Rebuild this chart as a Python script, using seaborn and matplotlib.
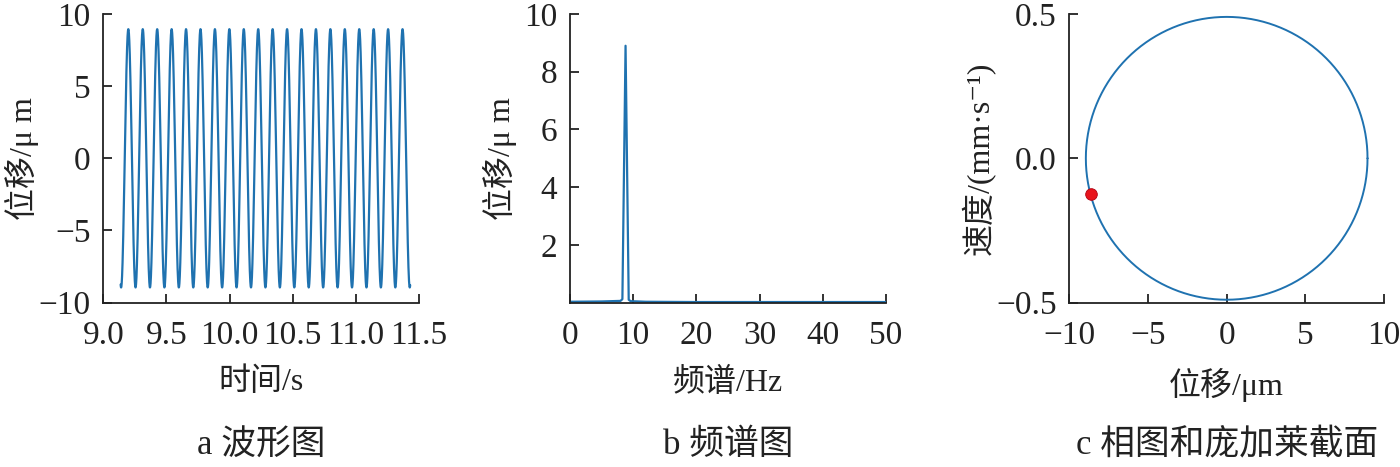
import numpy as np
import pandas as pd
import matplotlib
matplotlib.use("Agg")
import matplotlib.pyplot as plt
import seaborn as sns
from matplotlib.ticker import FormatStrFormatter, FuncFormatter

# ---------------- data ----------------
# (a) waveform: a pure sinusoid, parameters
wave_amplitude = 8.95      # µm
wave_frequency = 8.75      # Hz (20 peaks between 9.2 s and 11.4 s)
wave_first_peak = 9.198    # s
wave_t_start = 9.137       # s
wave_t_end = 11.43         # s

# (b) spectrum points (Hz, µm)
spec_freq = [0.0, 5.0, 8.0, 8.3, 8.8, 9.3, 9.6, 12.0, 20.0, 30.0, 40.0, 50.0]
spec_amp = [0.03, 0.04, 0.06, 0.12, 8.9, 0.10, 0.05, 0.03, 0.02, 0.02, 0.02, 0.02]

# (c) phase portrait: displacement amplitude (µm), velocity amplitude (mm/s)
phase_x_amp = 8.95
phase_v_amp = 0.49
poincare_x = [-8.64]
poincare_v = [-0.124]

# ticks / labels
a_xticks = [9.0, 9.5, 10.0, 10.5, 11.0, 11.5]
a_yticks = [-10, -5, 0, 5, 10]
b_xticks = [0, 10, 20, 30, 40, 50]
b_yticks = [2, 4, 6, 8, 10]
c_xticks = [-10, -5, 0, 5, 10]
c_yticks = [-0.5, 0.0, 0.5]
captions = ["a 波形图", "b 频谱图", "c 相图和庞加莱截面"]

# ---------------- build curves ----------------
t = np.linspace(wave_t_start, wave_t_end, 3000)
disp = wave_amplitude * np.cos(2 * np.pi * wave_frequency * (t - wave_first_peak))
df_wave = pd.DataFrame({"t": t, "x": disp})
df_spec = pd.DataFrame({"f": spec_freq, "a": spec_amp})
theta = np.linspace(0, 2 * np.pi, 721)
df_phase = pd.DataFrame({"x": phase_x_amp * np.cos(theta),
                         "v": phase_v_amp * np.sin(theta)})
df_pc = pd.DataFrame({"x": poincare_x, "v": poincare_v})

# ---------------- style ----------------
sns.set_theme(style="ticks")
plt.rcParams["font.family"] = ["Liberation Serif", "Noto Sans CJK SC", "DejaVu Sans"]
plt.rcParams["axes.unicode_minus"] = True
plt.rcParams.update({
    "xtick.direction": "in", "ytick.direction": "in",
    "xtick.major.size": 6.5, "ytick.major.size": 6.5,
    "xtick.major.width": 1.3, "ytick.major.width": 1.3,
    "axes.linewidth": 1.3, "axes.edgecolor": "#222222",
    "xtick.color": "#222222", "ytick.color": "#222222",
    "font.size": 23, "xtick.labelsize": 24, "ytick.labelsize": 24,
    "axes.labelsize": 23, "text.color": "#222222", "axes.labelcolor": "#222222",
})

fmt1 = FuncFormatter(lambda v, p: f"{v:.1f}".replace("-", "\u2212"))

BLUE = "#1f72b0"
fig = plt.figure(figsize=(14, 4.67), dpi=100)
bottom, height = 0.352, 0.618
axa = fig.add_axes([0.0738, bottom, 0.2255, height])
axb = fig.add_axes([0.4071, bottom, 0.2257, height])
axc = fig.add_axes([0.7638, bottom, 0.2248, height])

# (a)
sns.lineplot(data=df_wave, x="t", y="x", ax=axa, color=BLUE, linewidth=1.6,
             estimator=None, sort=False)
axa.set_xlim(9.0, 11.5)
axa.set_ylim(-10, 10)
axa.set_xticks(a_xticks)
axa.set_yticks(a_yticks)
axa.xaxis.set_major_formatter(fmt1)
axa.set_xlabel("时间/s", labelpad=12)
axa.set_ylabel("位移/μ m", labelpad=0)

# (b)
sns.lineplot(data=df_spec, x="f", y="a", ax=axb, color=BLUE, linewidth=1.6,
             estimator=None, sort=False)
axb.set_xlim(0, 50)
axb.set_ylim(0, 10)
axb.set_xticks(b_xticks)
axb.set_yticks(b_yticks)
axb.set_xlabel("频谱/Hz", labelpad=12)
axb.set_ylabel("位移/μ m", labelpad=5)

# (c)
sns.lineplot(data=df_phase, x="x", y="v", ax=axc, color=BLUE, linewidth=1.4,
             estimator=None, sort=False)
sns.scatterplot(data=df_pc, x="x", y="v", ax=axc, color="#e8141c", s=70,
                edgecolor="#b00010", linewidth=0.6, zorder=5)
axc.set_xlim(-10, 10)
axc.set_ylim(-0.5, 0.5)
axc.set_xticks(c_xticks)
axc.set_yticks(c_yticks)
axc.yaxis.set_major_formatter(fmt1)
axc.set_xlabel("位移/μm", labelpad=12)
axc.set_ylabel("速度/(mm·s⁻¹)", labelpad=0)

for ax in (axa, axb, axc):
    sns.despine(ax=ax)
    ax.tick_params(axis="x", pad=13)
    ax.tick_params(axis="y", pad=9)

for ax, cap in zip((axa, axb, axc), captions):
    pos = ax.get_position()
    fig.text(pos.x0 + pos.width / 2, 0.045, cap, ha="center", va="center",
             fontsize=25)

fig.savefig("out.png", dpi=100, facecolor="white")
